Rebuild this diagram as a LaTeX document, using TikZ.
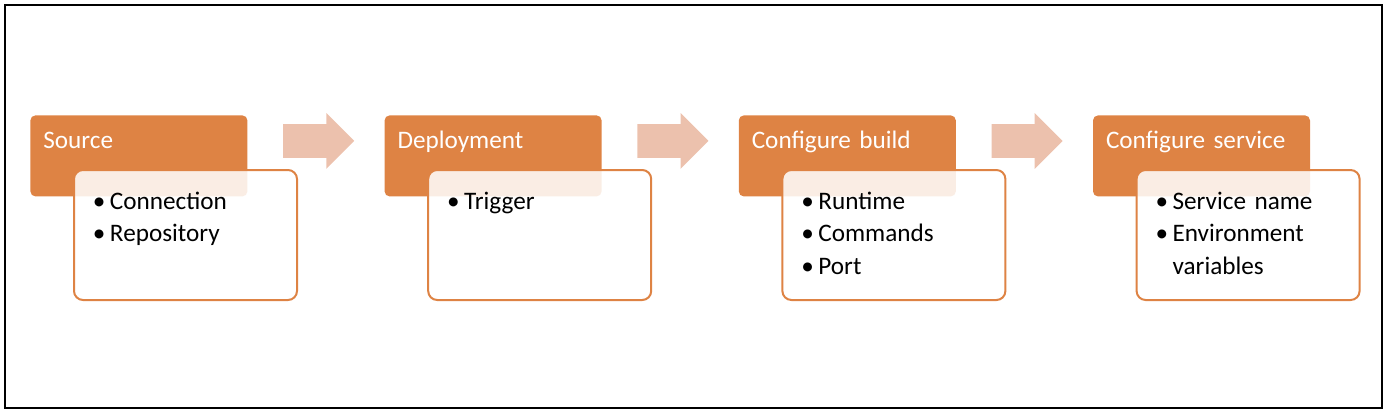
\documentclass[tikz,border=0pt]{standalone}
\usepackage{fontspec}
\setmainfont{Carlito}
\usetikzlibrary{positioning, shapes.arrows}
\definecolor{stageorange}{RGB}{222,131,68}
\definecolor{flowpeach}{RGB}{236,193,173}
\tikzset{%
  stage/.style={
    rectangle,
    rounded corners=2.5pt,
    fill=stageorange,
    text=white,
    align=left,
    text width=95.5pt,
    inner xsep=6.5pt,
    inner ysep=0pt,
    text height=16.5pt,
    text depth=24pt,
    font=\fontsize{12.6}{16.5}\selectfont
  },
  detail/.style={
    rectangle,
    rounded corners=4.5pt,
    draw=stageorange,
    line width=1pt,
    fill=white,
    fill opacity=0.86,
    text opacity=1,
    align=left,
    text width=88.5pt,
    inner xsep=11.5pt,
    inner ysep=0pt,
    text height=19.5pt,
    text depth=45.5pt,
    font=\fontsize{12.6}{16.3}\selectfont
  },
  flow/.style={
    single arrow,
    fill=flowpeach,
    inner xsep=0pt,
    inner ysep=8.25pt,
    minimum height=35.5pt,
    single arrow head extend=5.5pt
  }
}
\newcommand{\bitem}{\makebox[6.5pt][l]{\hspace*{-2pt}\textbullet}}

\begin{document}
\begin{tikzpicture}[x=0.5pt, y=-0.5pt, node distance=68.2pt]
		\useasboundingbox (0,0) rectangle (1386,412);
		% frame
		\draw[line width=1pt] (5,5) rectangle (1382,408);
		% stages
		\node[stage, anchor=north west] (s0) at (30,115) {Source};
		\node[stage, right=of s0] (s1) {Deployment};
		\node[stage, right=of s1] (s2) {Configure build};
		\node[stage, right=of s2] (s3) {Configure service};
		% details
		\node[detail, below right=27pt and 21.5pt of s0.north west] (d0) {\bitem Connection\\\bitem Repository};
		\node[detail, below right=27pt and 21.5pt of s1.north west] (d1) {\bitem Trigger};
		\node[detail, below right=27pt and 21.5pt of s2.north west] (d2) {\bitem Runtime\\\bitem Commands\\\bitem Port};
		\node[detail, below right=27pt and 21.5pt of s3.north west] (d3) {\bitem Service name\\\bitem Environment\\\hspace*{6.5pt}variables};
		% flow arrows
		\node[flow, right=17.5pt of s0, yshift=7.5pt] (f0) {};
		\node[flow, right=17.5pt of s1, yshift=7.5pt] (f1) {};
		\node[flow, right=17.5pt of s2, yshift=7.5pt] (f2) {};
	\end{tikzpicture}
\end{document}
